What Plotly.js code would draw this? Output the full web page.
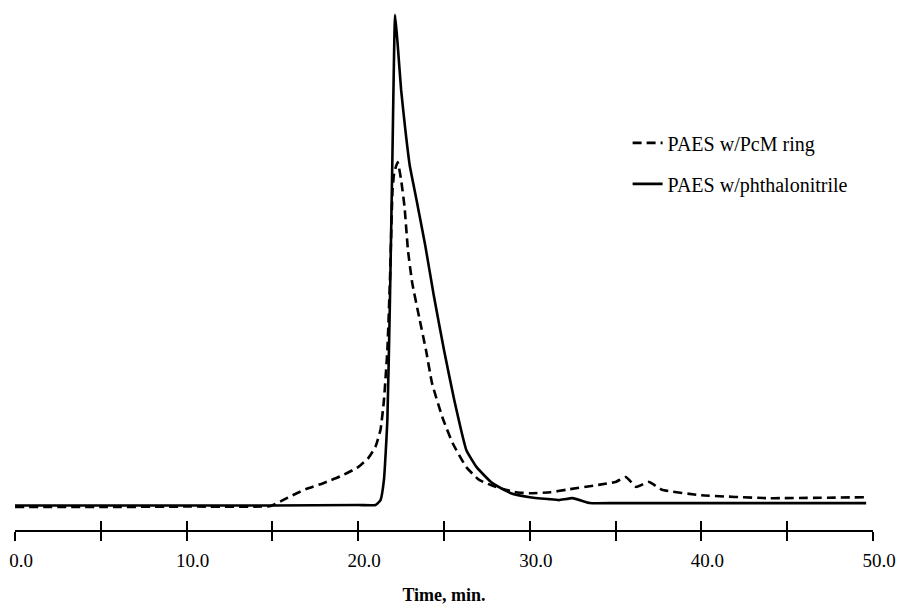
<!DOCTYPE html>
<html>
<head>
<meta charset="utf-8">
<script src="https://cdn.plot.ly/plotly-3.0.1.min.js"></script>
<style>html,body{margin:0;padding:0;background:#fff;}#chart{width:904px;height:606px;}</style>
</head>
<body>
<div id="chart"></div>
<script>
// Time, min.
const pcmTime = [0, 5, 10, 14.9, 15.5, 16.3, 17.0, 18.0, 19.0, 20.0, 20.6, 21.0, 21.3, 21.5, 21.7, 21.85, 22.0, 22.1, 22.3, 22.5, 22.7, 22.9, 23.15, 23.55, 23.95, 24.3, 24.9, 25.5, 26.3, 27.05, 28.0, 29.2, 30.0, 31.2, 32.1, 34.0, 35.0, 35.6, 36.2, 36.95, 37.7, 40.0, 43.9, 49.6];
// Detector response (arbitrary units)
const pcmSignal = [0.0, 0.0, 0.1, 0.2, 1.2, 2.6, 3.7, 4.9, 6.3, 8.1, 10.0, 12.2, 15.7, 21.7, 31.9, 46.0, 64.4, 68.0, 70.1, 66.5, 61.0, 52.2, 45.5, 38.6, 31.9, 25.2, 18.3, 13.0, 8.1, 5.5, 4.1, 3.0, 2.8, 3.0, 3.5, 4.5, 5.1, 6.1, 4.1, 5.1, 3.5, 2.4, 1.8, 2.0];

const phthTime = [0, 5, 10, 15, 20, 21.0, 21.3, 21.5, 21.7, 21.85, 22.0, 22.15, 22.3, 22.5, 22.75, 23.0, 23.4, 23.9, 24.4, 25.0, 25.6, 26.3, 26.9, 27.8, 28.9, 30.0, 31.1, 31.7, 32.5, 33.5, 35, 40, 45, 49.6];
const phthSignal = [0.3, 0.3, 0.3, 0.3, 0.4, 0.4, 1.4, 5.5, 17.7, 42.0, 72.6, 100.0, 94.0, 84.8, 76.6, 69.5, 62.4, 53.3, 43.1, 31.9, 21.7, 11.6, 8.1, 4.9, 2.8, 2.0, 1.6, 1.4, 1.8, 0.8, 0.8, 0.8, 0.8, 0.8];

const seriesNames = ["PAES w/PcM ring", "PAES w/phthalonitrile"];
const tickValues = [0, 5, 10, 15, 20, 25, 30, 35, 40, 45, 50];
const tickLabels = ["0.0", "", "10.0", "", "20.0", "", "30.0", "", "40.0", "", "50.0"];

const serif = "Liberation Serif, Times New Roman, serif";

const traces = [
  {x: pcmTime, y: pcmSignal, name: seriesNames[0], type: "scatter", mode: "lines",
   legendgroup: "a", line: {color: "#000", width: 2.6, dash: "9px,5px", shape: "spline", smoothing: 0.4}},
  {x: phthTime, y: phthSignal, name: seriesNames[1], type: "scatter", mode: "lines",
   legendgroup: "b", line: {color: "#000", width: 2.6, shape: "spline", smoothing: 0.4}},
  {x: [0, 50], y: [null, null], xaxis: "x2", showlegend: false, hoverinfo: "skip", mode: "lines"}
];

const layout = {
  width: 904, height: 606,
  margin: {l: 15, r: 31, t: 10, b: 76},
  paper_bgcolor: "#fff", plot_bgcolor: "#fff",
  font: {family: serif, color: "#000", size: 19},
  showlegend: true,
  legend: {x: 0.714, y: 0.782, xanchor: "left", yanchor: "top", font: {family: serif, size: 20, color: "#000"},
           traceorder: "grouped", tracegroupgap: 12, bgcolor: "rgba(0,0,0,0)"},
  xaxis: {range: [0, 50], tickvals: tickValues, ticktext: tickLabels, ticks: "outside", ticklen: 9,
          tickwidth: 2, tickcolor: "#000", showline: true, linewidth: 2, linecolor: "#000",
          showgrid: false, zeroline: false, ticklabelstandoff: 3, ticklabelshift: 6,
          tickfont: {family: serif, size: 19},
          title: {text: "<b>Time, min.</b>", font: {family: serif, size: 18}, standoff: 19}},
  xaxis2: {range: [0, 50], overlaying: "x", anchor: "y", side: "bottom", tickvals: tickValues,
           ticks: "inside", ticklen: 9, tickwidth: 2, tickcolor: "#000", showticklabels: false,
           showline: false, showgrid: false, zeroline: false},
  yaxis: {range: [-4.67, 101.0], visible: false, showgrid: false, zeroline: false}
};

Plotly.newPlot("chart", traces, layout, {displayModeBar: false, staticPlot: true});
</script>
</body>
</html>
